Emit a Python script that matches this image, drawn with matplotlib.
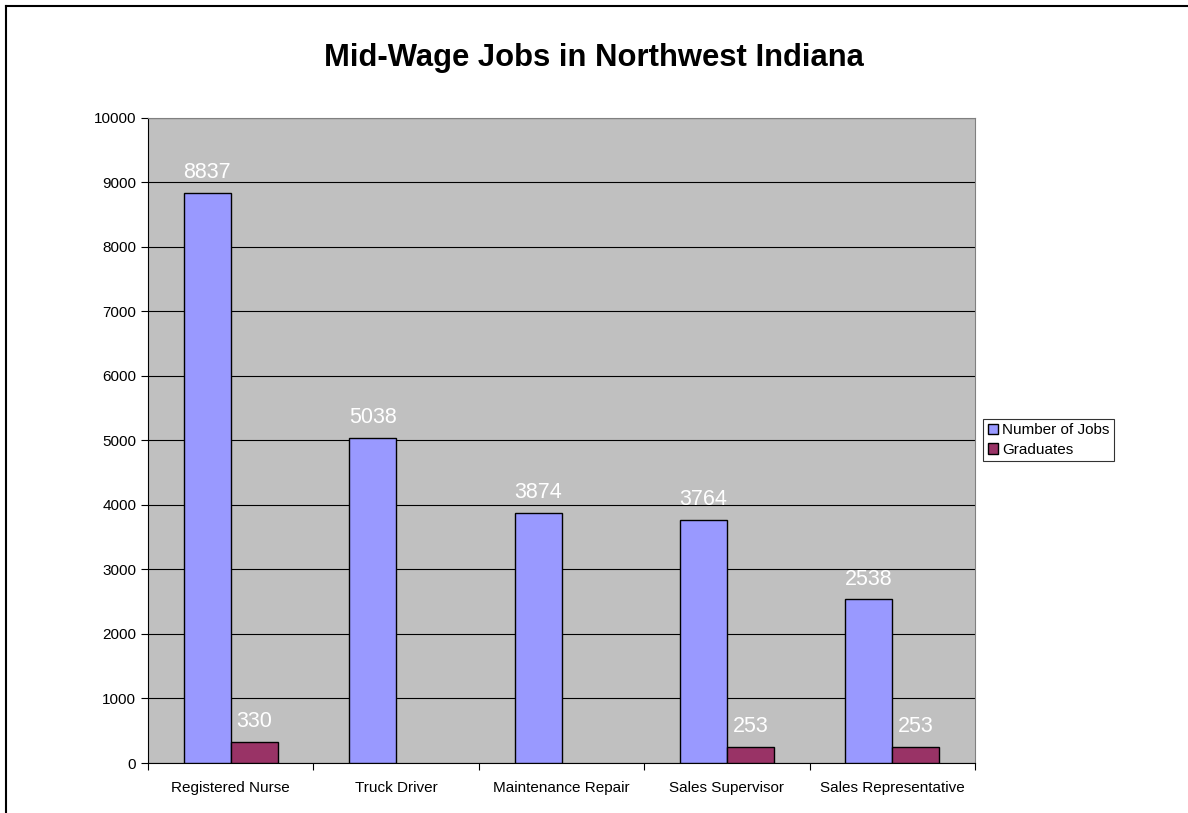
import numpy as np
import matplotlib.pyplot as plt
from matplotlib.lines import Line2D

plt.rcParams['font.family'] = ['Liberation Sans', 'DejaVu Sans']

# Chart data
categories = ['Registered Nurse', 'Truck Driver', 'Maintenance Repair',
              'Sales Supervisor', 'Sales Representative']
jobs = [8837, 5038, 3874, 3764, 2538]
graduates = [330, 0, 0, 253, 253]
grad_labels = ['330', '', '', '253', '253']

fig = plt.figure(figsize=(11.88, 8.13), dpi=100)
ax = fig.add_axes([0.1246, 0.0615, 0.6961, 0.7934])
ax.set_facecolor('#C0C0C0')

x = np.arange(len(categories))
w = 0.284
b1 = ax.bar(x - w / 2, jobs, w, color='#9999FF', edgecolor='black',
            linewidth=1, label='Number of Jobs', zorder=3)
b2 = ax.bar(x + w / 2, graduates, w, color='#993366', edgecolor='black',
            linewidth=1, label='Graduates', zorder=3)
# zero-height bars are not drawn in the original
for rect, val in zip(b2, graduates):
    if val == 0:
        rect.set_visible(False)

for rect, val in zip(b1, jobs):
    ax.annotate(str(val), (rect.get_x() + rect.get_width() / 2, val),
                xytext=(0, 7), textcoords='offset points', ha='center',
                va='bottom', color='white', fontsize=15.5, zorder=4)
for rect, val, lab in zip(b2, graduates, grad_labels):
    if lab:
        ax.annotate(lab, (rect.get_x() + rect.get_width() / 2, val),
                    xytext=(0, 7), textcoords='offset points', ha='center',
                    va='bottom', color='white', fontsize=15.5, zorder=4)

ax.set_xlim(-0.5, len(categories) - 0.5)
ax.set_ylim(0, 10000)
ax.set_yticks(np.arange(0, 10001, 1000))
ax.yaxis.grid(True, color='black', linewidth=0.8, zorder=0)
ax.set_axisbelow(True)

ax.set_xticks(x)
ax.set_xticklabels(categories, fontsize=11)
ax.set_xticks(np.arange(-0.5, len(categories), 1), minor=True)
ax.tick_params(axis='x', which='major', length=0, pad=13)
ax.tick_params(axis='x', which='minor', length=5, direction='out', width=0.8)
ax.tick_params(axis='y', labelsize=11, length=5, width=0.8, direction='out')

for s in ['top', 'right']:
    ax.spines[s].set_color('#808080')
for s in ['left', 'bottom']:
    ax.spines[s].set_color('black')

fig.text(0.5, 0.929, 'Mid-Wage Jobs in Northwest Indiana', ha='center',
         va='center', fontsize=22.3, fontweight='bold')

leg = fig.legend(loc='center left', bbox_to_anchor=(0.8274, 0.4588),
                 fontsize=11, frameon=True, fancybox=False, edgecolor='black',
                 handlelength=0.7, handleheight=0.7, handletextpad=0.25,
                 borderpad=0.3, labelspacing=0.35, borderaxespad=0)
leg.get_frame().set_linewidth(0.8)

# chart frame: only left and top edges show in the original
W, H = 1188, 813
fig.lines.append(Line2D([6 / W, 6 / W], [0, 1 - 6 / H], transform=fig.transFigure,
                        color='black', linewidth=1.5))
fig.lines.append(Line2D([6 / W, 1], [1 - 6 / H, 1 - 6 / H], transform=fig.transFigure,
                        color='black', linewidth=1.5))

fig.savefig('out.png', dpi=100)
